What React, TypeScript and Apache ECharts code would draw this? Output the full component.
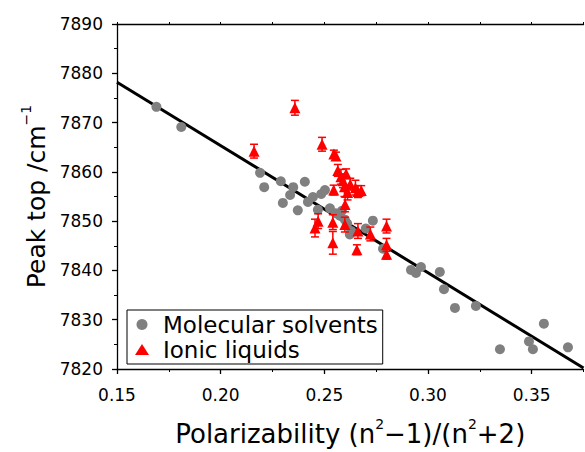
import React, { useEffect, useRef } from "react";
import * as echarts from "echarts";

// Molecular solvents (grey circles)
const molX = [0.169, 0.181, 0.219, 0.221, 0.229, 0.23, 0.2335, 0.235, 0.2372, 0.2406, 0.2421, 0.2445, 0.2469, 0.2485, 0.2503, 0.2527, 0.2555, 0.2575, 0.2585, 0.2599, 0.261, 0.2623, 0.263, 0.27, 0.2734, 0.2783, 0.2918, 0.2942, 0.2966, 0.3057, 0.3077, 0.313, 0.3231, 0.3347, 0.3487, 0.3506, 0.3559, 0.3675];
const molY = [7873.2, 7869.1, 7859.8, 7856.9, 7858.1, 7853.7, 7855.3, 7856.9, 7852.2, 7858.0, 7853.9, 7854.9, 7852.3, 7855.5, 7856.3, 7852.6, 7851.6, 7851.1, 7852.1, 7850.3, 7849.5, 7847.3, 7848.0, 7848.5, 7850.1, 7844.4, 7840.1, 7839.5, 7840.7, 7839.7, 7836.2, 7832.4, 7832.8, 7824.0, 7825.6, 7824.0, 7829.2, 7824.4];

// Ionic liquids (red triangles, with error bars)
const ilX = [0.2161, 0.2358, 0.2489, 0.2546, 0.2556, 0.2565, 0.258, 0.259, 0.2597, 0.2605, 0.2612, 0.2625, 0.265, 0.2662, 0.2678, 0.26, 0.2545, 0.247, 0.2455, 0.2541, 0.2541, 0.2599, 0.2662, 0.2657, 0.2722, 0.28, 0.28, 0.28];
const ilY = [7864.2, 7873.0, 7865.6, 7863.6, 7863.2, 7860.3, 7859.0, 7858.2, 7857.0, 7859.6, 7855.8, 7857.5, 7856.8, 7856.0, 7856.2, 7853.4, 7856.3, 7850.0, 7848.6, 7849.8, 7845.6, 7849.3, 7848.0, 7844.2, 7847.4, 7849.0, 7845.2, 7843.3];
const ilErr = [1.4, 1.5, 1.4, 0.8, 0.8, 1.2, 1.5, 1.4, 2.0, 1.0, 1.5, 1.2, 1.5, 1.2, 1.0, 1.5, 1.0, 1.5, 1.8, 1.5, 2.3, 1.5, 1.5, 1.0, 1.4, 1.4, 1.3, 1.0];

// Linear fit
const fitX = [0.15, 0.375];
const fitY = [7878.2, 7820.2];

const xMin = 0.15, xMax = 0.375, xStep = 0.05, xMinorStep = 0.025;
const yMin = 7820, yMax = 7890, yStep = 10;

const FONT = "DejaVu Sans";

export default function App() {
  const ref = useRef<HTMLDivElement>(null);
  useEffect(() => {
    const chart = echarts.init(ref.current!, null, { renderer: "svg" });
    const axisCommon = {
      axisLine: { show: true, lineStyle: { color: "#000", width: 1.3 } },
      splitLine: { show: false },
    };
    chart.setOption({
      animation: false,
      backgroundColor: "#fff",
      grid: { left: 117, top: 24, width: 466.5, height: 349 },
      legend: {
        orient: "vertical",
        left: 127,
        top: 310,
        borderColor: "#000",
        borderWidth: 1,
        padding: [3, 5, 3, 8],
        itemGap: 2,
        itemWidth: 14,
        itemHeight: 11,
        textStyle: { fontFamily: FONT, fontSize: 23, color: "#000", padding: [0, 0, 0, 9] },
        data: [
          { name: "Molecular solvents", icon: "circle" },
          { name: "Ionic liquids", icon: "triangle" },
        ],
      },
      xAxis: [
        {
          type: "value",
          min: xMin,
          max: xMax,
          interval: xStep,
          ...axisCommon,
          axisTick: { show: true, inside: false, length: 5, lineStyle: { color: "#000", width: 1.3 } },
          axisLabel: {
            fontFamily: FONT,
            fontSize: 17,
            color: "#000",
            margin: 17,
            showMaxLabel: false,
            formatter: (v: number) => v.toFixed(2),
          },
          name: "{a|Polarizability (n}{s|2}{a|−1)/(n}{s|2}{a|+2)}",
          nameLocation: "middle",
          nameGap: 48,
          nameTextStyle: {
            rich: {
              a: { fontFamily: FONT, fontSize: 26, color: "#000", lineHeight: 34 },
              s: { fontFamily: FONT, fontSize: 14, color: "#000", verticalAlign: "top" },
            },
          },
        },
        {
          type: "value",
          position: "bottom",
          min: xMin,
          max: xMax,
          interval: xMinorStep,
          axisLine: { show: false },
          splitLine: { show: false },
          axisTick: { show: true, inside: false, length: 3, lineStyle: { color: "#000", width: 1 } },
          axisLabel: { show: false },
        },
        {
          type: "value",
          position: "top",
          min: xMin,
          max: xMax,
          interval: xMinorStep,
          ...axisCommon,
          axisTick: { show: true, inside: false, length: 2, lineStyle: { color: "#000", width: 1 } },
          axisLabel: { show: false },
        },
      ],
      yAxis: [
        {
          type: "value",
          min: yMin,
          max: yMax,
          interval: yStep,
          ...axisCommon,
          axisTick: { show: true, inside: false, length: 5, lineStyle: { color: "#000", width: 1.3 } },
          minorTick: { show: true, splitNumber: 2, length: 3, lineStyle: { color: "#000", width: 1 } },
          axisLabel: { fontFamily: FONT, fontSize: 17, color: "#000", margin: 14, formatter: (v: number) => String(v) },
          name: "{a|Peak top /cm}{s|−1}",
          nameLocation: "middle",
          nameGap: 58,
          nameTextStyle: {
            rich: {
              a: { fontFamily: FONT, fontSize: 25, color: "#000", lineHeight: 34 },
              s: { fontFamily: FONT, fontSize: 14, color: "#000", verticalAlign: "top" },
            },
          },
        },
      ],
      series: [
        {
          name: "fit",
          type: "line",
          data: fitX.map((x, i) => [x, fitY[i]]),
          symbol: "none",
          lineStyle: { color: "#000", width: 3 },
          clip: true,
          z: 1,
        },
        {
          name: "Molecular solvents",
          type: "scatter",
          data: molX.map((x, i) => [x, molY[i]]),
          symbol: "circle",
          symbolSize: 10,
          itemStyle: { color: "#808080", opacity: 1 },
          z: 2,
        },
        {
          name: "ilerr",
          type: "custom",
          data: ilX.map((x, i) => [x, ilY[i], ilErr[i]]),
          encode: { x: 0, y: 1 },
          z: 3,
          renderItem: (params: any, api: any) => {
            const x = api.value(0);
            const y = api.value(1);
            const e = api.value(2);
            const top = api.coord([x, y + e]);
            const bot = api.coord([x, y - e]);
            const hw = 4;
            const st = { stroke: "#ff0000", lineWidth: 1.5 };
            return {
              type: "group",
              children: [
                { type: "line", shape: { x1: top[0], y1: top[1], x2: bot[0], y2: bot[1] }, style: st },
                { type: "line", shape: { x1: top[0] - hw, y1: top[1], x2: top[0] + hw, y2: top[1] }, style: st },
                { type: "line", shape: { x1: bot[0] - hw, y1: bot[1], x2: bot[0] + hw, y2: bot[1] }, style: st },
              ],
            };
          },
        },
        {
          name: "Ionic liquids",
          type: "scatter",
          data: ilX.map((x, i) => [x, ilY[i]]),
          symbol: "triangle",
          symbolSize: 11,
          itemStyle: { color: "#ff0000", opacity: 1 },
          z: 4,
        },
      ],
    });
    return () => chart.dispose();
  }, []);
  return <div ref={ref} style={{ position: "absolute", left: 0, top: 0, width: 585, height: 452 }} />;
}
